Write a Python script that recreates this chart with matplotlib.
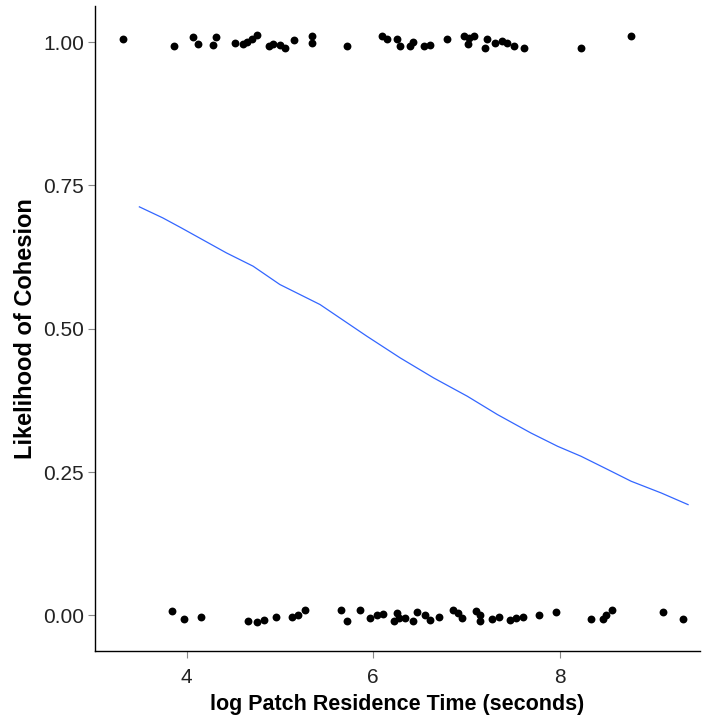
import numpy as np
import matplotlib
matplotlib.use("Agg")
import matplotlib.pyplot as plt

plt.rcParams['font.family'] = ['Liberation Sans Narrow', 'Liberation Sans', 'DejaVu Sans']

# cohesion = 1 (jittered)
x_yes = [3.32, 3.87, 4.07, 4.12, 4.32, 4.28, 4.52, 4.60, 4.65, 4.70, 4.76, 4.88,
         4.93, 5.00, 5.05, 5.15, 5.34, 5.34, 5.72, 6.09, 6.15, 6.25, 6.29, 6.39,
         6.43, 6.54, 6.61, 6.79, 6.97, 7.03, 7.08, 7.02, 7.22, 7.20, 7.30, 7.38,
         7.43, 7.51, 7.62, 8.23, 8.76]
y_yes = [1.005, 0.993, 1.009, 0.996, 1.009, 0.995, 0.998, 0.996, 1.001, 1.005,
         1.012, 0.993, 0.996, 0.995, 0.990, 1.003, 1.010, 0.998, 0.993, 1.010,
         1.006, 1.005, 0.993, 0.993, 1.001, 0.993, 0.995, 1.006, 1.010, 1.007,
         1.010, 0.997, 1.005, 0.990, 0.998, 1.002, 0.998, 0.993, 0.990, 0.990,
         1.010]

# cohesion = 0 (jittered)
x_no = [3.84, 3.97, 4.16, 4.66, 4.76, 4.83, 4.96, 5.13, 5.19, 5.27, 5.66, 5.72,
        5.86, 5.97, 6.04, 6.10, 6.25, 6.22, 6.28, 6.34, 6.43, 6.47, 6.56, 6.61,
        6.70, 6.86, 6.91, 6.95, 7.10, 7.14, 7.14, 7.27, 7.35, 7.47, 7.53, 7.60,
        7.78, 7.96, 8.33, 8.46, 8.49, 8.56, 9.10, 9.32]
y_no = [0.007, -0.007, -0.003, -0.010, -0.012, -0.009, -0.003, -0.003, 0.001,
        0.009, 0.009, -0.010, 0.009, -0.005, 0.001, 0.003, 0.004, -0.010,
        -0.005, -0.005, -0.010, 0.005, 0.001, -0.009, -0.003, 0.009, 0.004,
        -0.005, 0.007, 0.001, -0.010, -0.007, -0.003, -0.009, -0.005, -0.003,
        0.001, 0.005, -0.007, -0.007, 0.001, 0.009, 0.005, -0.007]

# fitted curve
fit_x = [3.495, 3.745, 3.943, 4.427, 4.713, 5.000, 5.430, 5.932, 6.290, 6.648,
         7.008, 7.330, 7.688, 7.975, 8.226, 8.513, 8.763, 9.086, 9.373]
fit_y = [0.7126, 0.6934, 0.6760, 0.6323, 0.6091, 0.5771, 0.5422, 0.4869, 0.4490,
         0.4141, 0.3822, 0.3503, 0.3182, 0.2949, 0.2775, 0.2543, 0.2339, 0.2134,
         0.1931]

yticks = [0.0, 0.25, 0.5, 0.75, 1.0]
ytick_labels = ["0.00", "0.25", "0.50", "0.75", "1.00"]
xticks = [4, 6, 8]

fig = plt.figure(figsize=(7.05, 7.23), dpi=100)
ax = fig.add_axes([0.1348, 0.099, 0.858, 0.8927])

ax.scatter(x_yes + x_no, y_yes + y_no, s=32, color='black', linewidths=0, zorder=3)
ax.plot(fit_x, fit_y, color='#3366FF', lw=0.9, zorder=2)

ax.set_xlim(3.02, 9.5)
ax.set_ylim(-0.063, 1.063)
ax.set_xticks(xticks)
ax.set_yticks(yticks)
ax.set_yticklabels(ytick_labels)

for s in ['top', 'right']:
    ax.spines[s].set_visible(False)
for s in ['left', 'bottom']:
    ax.spines[s].set_color('black')
    ax.spines[s].set_linewidth(1.0)

ax.tick_params(axis='both', direction='out', length=5, width=0.8, color='#888888',
               labelsize=15, labelcolor='#222222', pad=3)
ax.tick_params(axis='x', pad=7)

ax.set_xlabel("log Patch Residence Time (seconds)", fontsize=15.5, fontweight='bold', labelpad=5)
ax.set_ylabel("Likelihood of Cohesion", fontsize=17, fontweight='bold', labelpad=4)

fig.savefig("out.png", dpi=100)
